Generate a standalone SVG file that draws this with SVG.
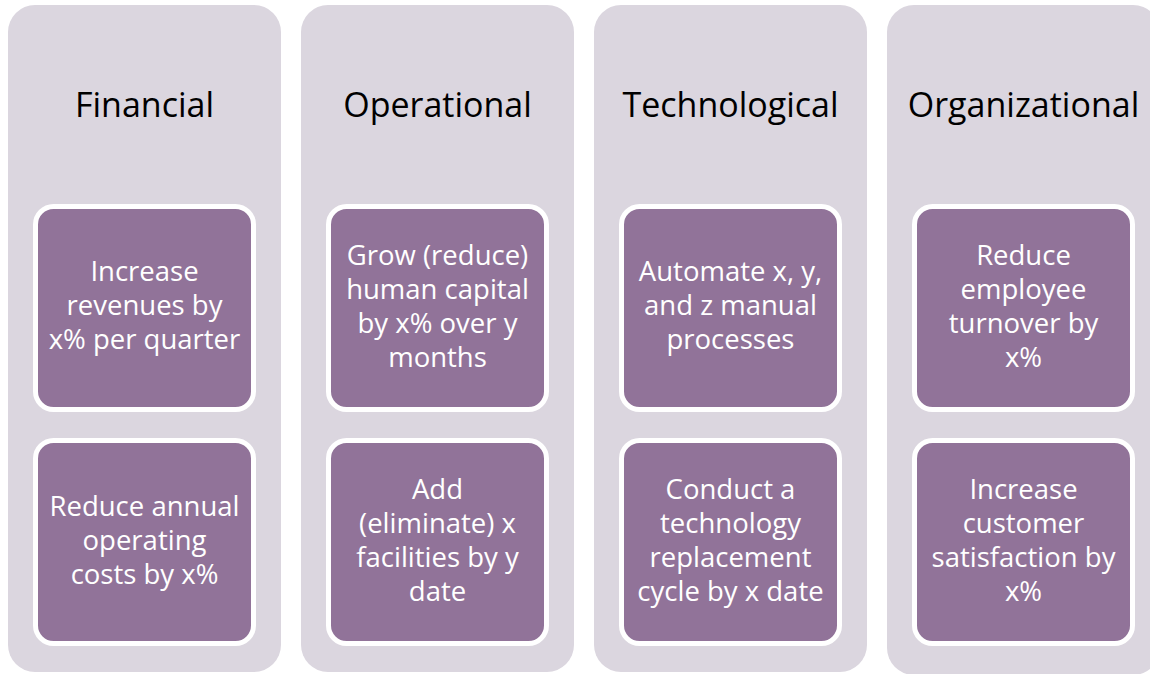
<svg xmlns="http://www.w3.org/2000/svg" width="1150" height="674" viewBox="0 0 1150 674">
  <style>
    .lane { fill: #DBD6DF; }
    .card { fill: #917399; stroke: #FFFFFF; stroke-width: 5; }
    .head { font-family: "Open Sans", "Noto Sans", sans-serif; font-size: 34px; fill: #000000; text-anchor: middle; }
    .body { font-family: "Open Sans", "Noto Sans", sans-serif; font-size: 27.5px; fill: #FFFFFF; text-anchor: middle; }
  </style>
  <rect width="1150" height="674" fill="#FFFFFF"/>

  <!-- Financial -->
  <g id="financial">
    <rect class="lane" x="8" y="5" width="273" height="667" rx="27"/>
    <text class="head" x="144.5" y="117">Financial</text>
    <g id="financial-revenue">
      <rect class="card" x="35.5" y="206.5" width="218" height="203" rx="18"/>
      <text class="body" x="144.5" y="281"><tspan x="144.5">Increase</tspan><tspan x="144.5" dy="34">revenues by</tspan><tspan x="144.5" dy="34">x% per quarter</tspan></text>
    </g>
    <g id="financial-costs">
      <rect class="card" x="35.5" y="440.5" width="218" height="203" rx="18"/>
      <text class="body" x="144.5" y="516"><tspan x="144.5">Reduce annual</tspan><tspan x="144.5" dy="34">operating</tspan><tspan x="144.5" dy="34">costs by x%</tspan></text>
    </g>
  </g>

  <!-- Operational -->
  <g id="operational">
    <rect class="lane" x="301" y="5" width="273" height="667" rx="27"/>
    <text class="head" x="437.5" y="117">Operational</text>
    <g id="operational-capital">
      <rect class="card" x="328.5" y="206.5" width="218" height="203" rx="18"/>
      <text class="body" x="437.5" y="265"><tspan x="437.5">Grow (reduce)</tspan><tspan x="437.5" dy="34">human capital</tspan><tspan x="437.5" dy="34">by x% over y</tspan><tspan x="437.5" dy="34">months</tspan></text>
    </g>
    <g id="operational-facilities">
      <rect class="card" x="328.5" y="440.5" width="218" height="203" rx="18"/>
      <text class="body" x="437.5" y="499"><tspan x="437.5">Add</tspan><tspan x="437.5" dy="34">(eliminate) x</tspan><tspan x="437.5" dy="34">facilities by y</tspan><tspan x="437.5" dy="34">date</tspan></text>
    </g>
  </g>

  <!-- Technological -->
  <g id="technological">
    <rect class="lane" x="594" y="5" width="273" height="667" rx="27"/>
    <text class="head" x="730.5" y="117">Technological</text>
    <g id="technological-automate">
      <rect class="card" x="621.5" y="206.5" width="218" height="203" rx="18"/>
      <text class="body" x="730.5" y="281"><tspan x="730.5">Automate x, y,</tspan><tspan x="730.5" dy="34">and z manual</tspan><tspan x="730.5" dy="34">processes</tspan></text>
    </g>
    <g id="technological-replace">
      <rect class="card" x="621.5" y="440.5" width="218" height="203" rx="18"/>
      <text class="body" x="730.5" y="499"><tspan x="730.5">Conduct a</tspan><tspan x="730.5" dy="34">technology</tspan><tspan x="730.5" dy="34">replacement</tspan><tspan x="730.5" dy="34">cycle by x date</tspan></text>
    </g>
  </g>

  <!-- Organizational -->
  <g id="organizational">
    <rect class="lane" x="887" y="5" width="273" height="670" rx="27"/>
    <text class="head" x="1023.5" y="117">Organizational</text>
    <g id="organizational-turnover">
      <rect class="card" x="914.5" y="206.5" width="218" height="203" rx="18"/>
      <text class="body" x="1023.5" y="265"><tspan x="1023.5">Reduce</tspan><tspan x="1023.5" dy="34">employee</tspan><tspan x="1023.5" dy="34">turnover by</tspan><tspan x="1023.5" dy="34">x%</tspan></text>
    </g>
    <g id="organizational-satisfaction">
      <rect class="card" x="914.5" y="440.5" width="218" height="203" rx="18"/>
      <text class="body" x="1023.5" y="499"><tspan x="1023.5">Increase</tspan><tspan x="1023.5" dy="34">customer</tspan><tspan x="1023.5" dy="34">satisfaction by</tspan><tspan x="1023.5" dy="34">x%</tspan></text>
    </g>
  </g>

  <!-- no connectors in this layout -->
  <g id="connectors"/>
</svg>
